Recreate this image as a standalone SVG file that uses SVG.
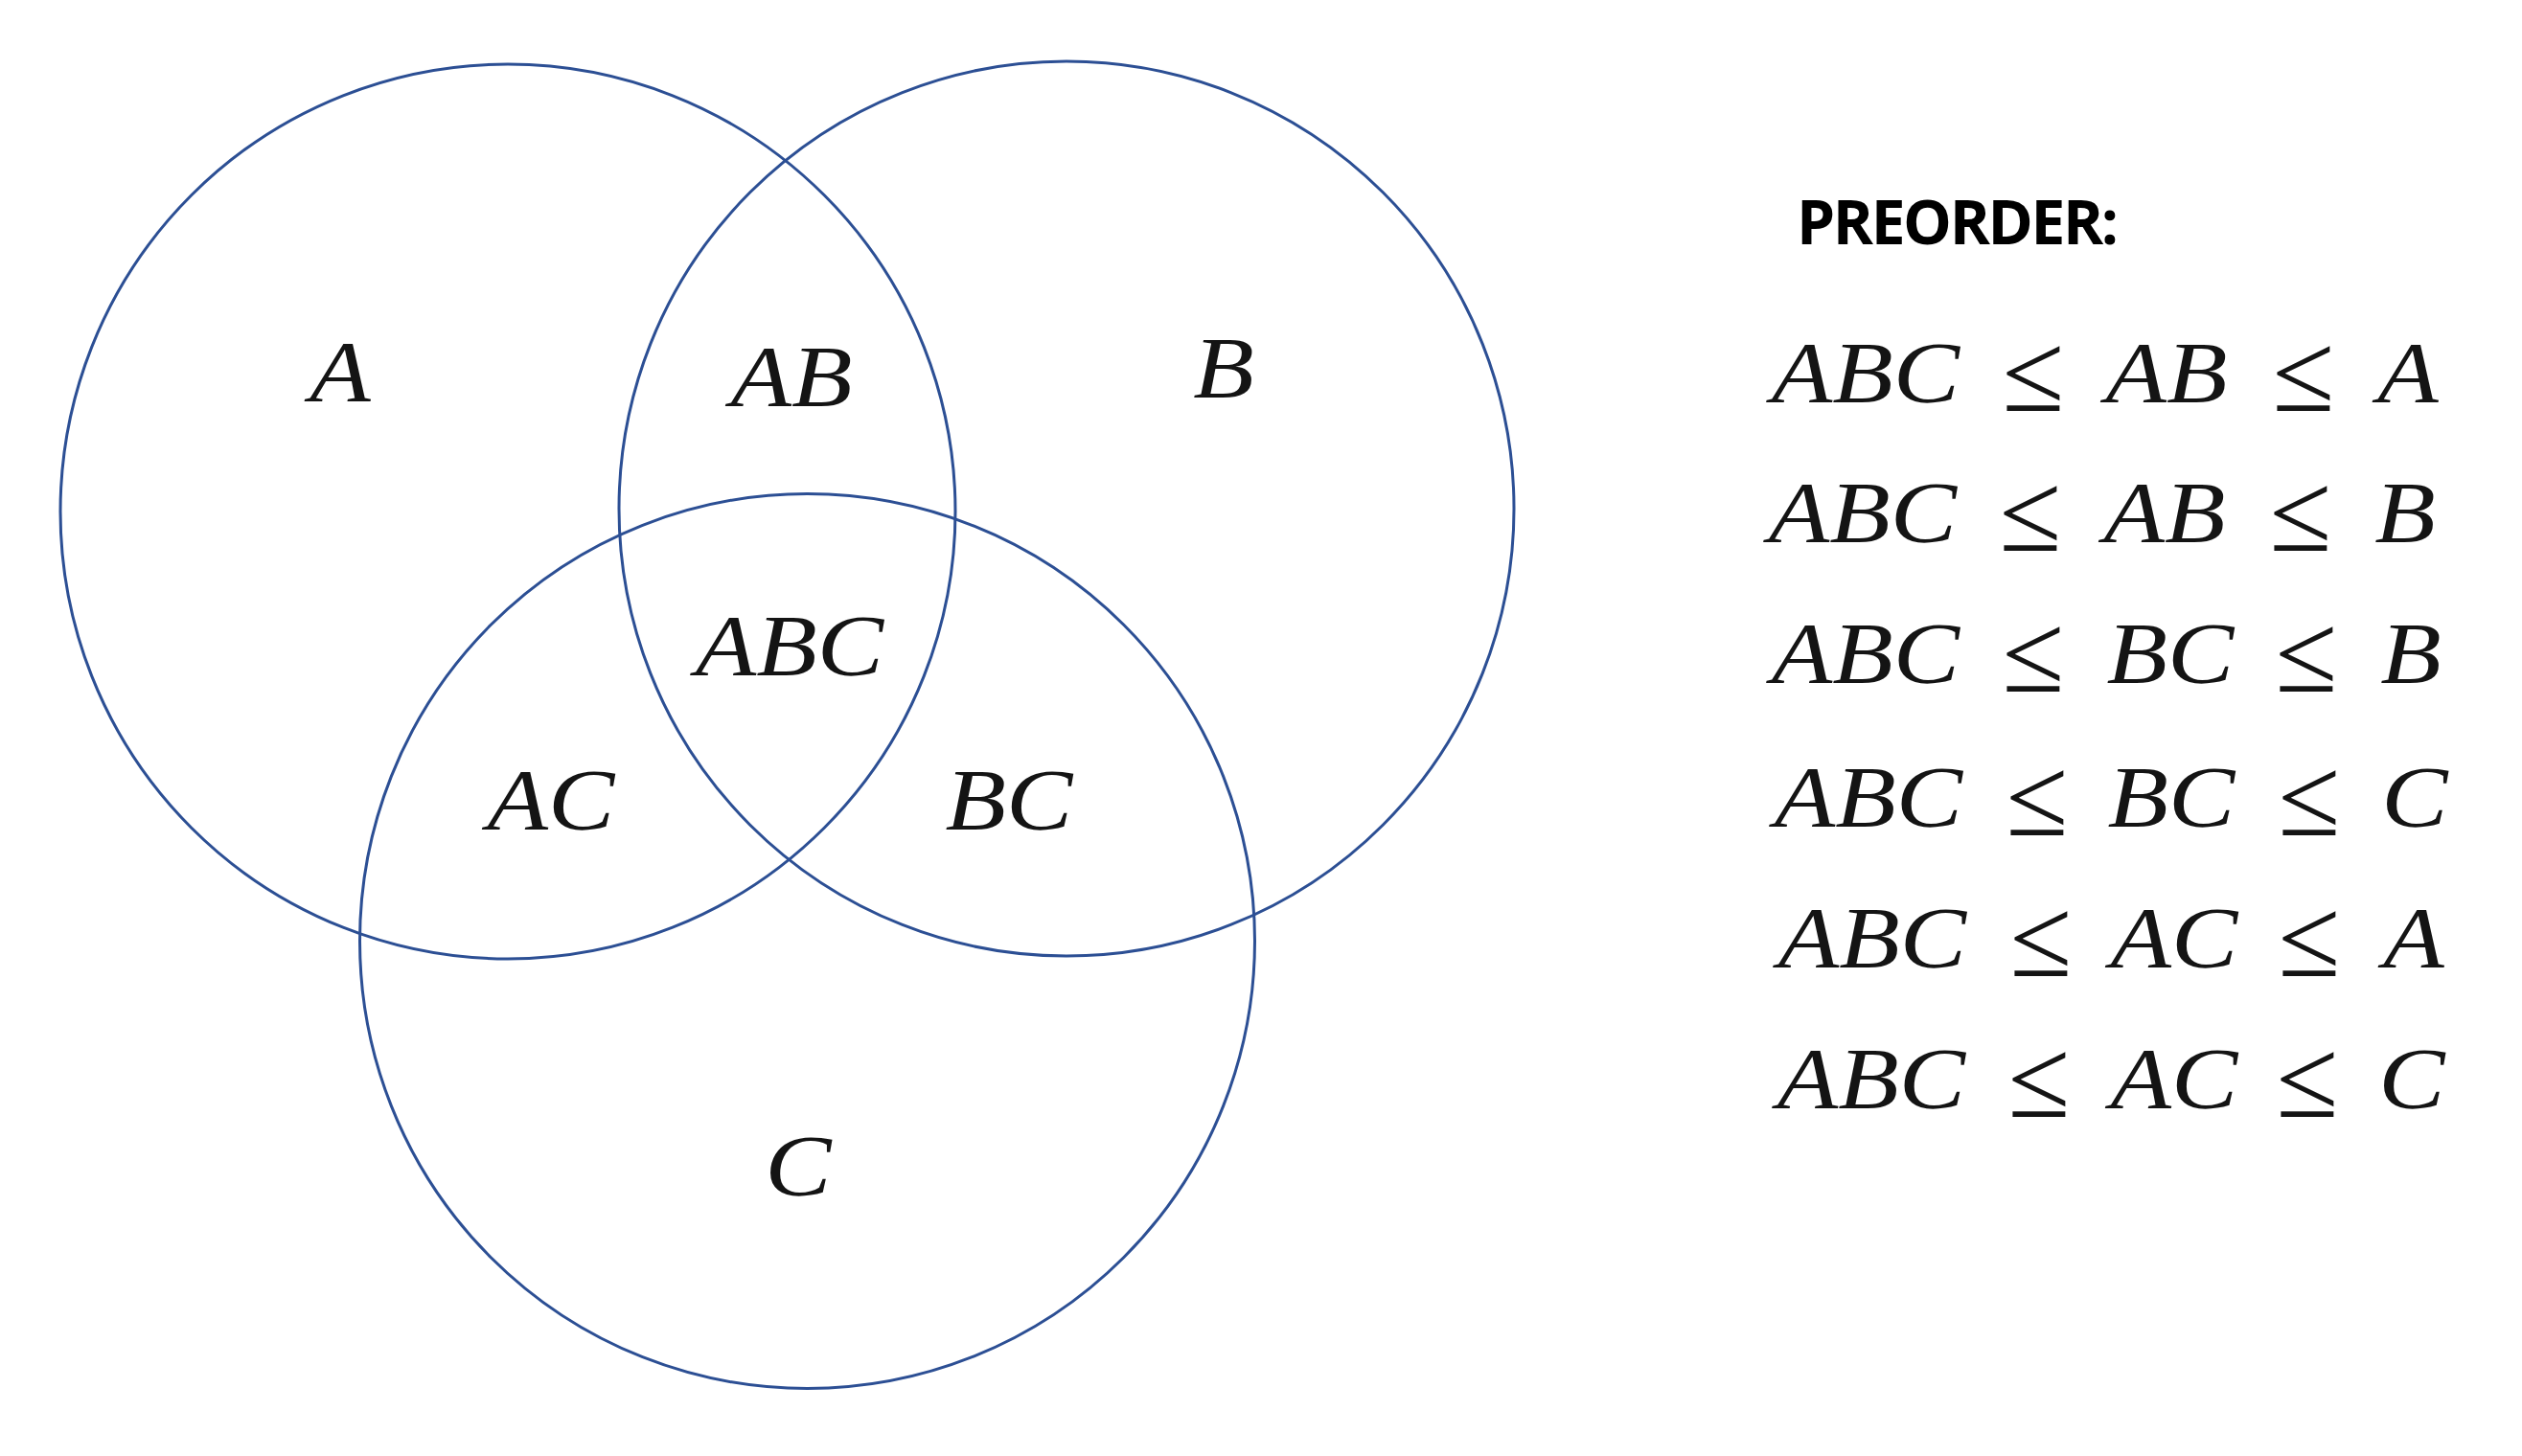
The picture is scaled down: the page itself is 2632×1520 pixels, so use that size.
<svg xmlns="http://www.w3.org/2000/svg" width="2632" height="1520" viewBox="0 0 2632 1520">
<style>
.c{fill:none;stroke:#2c4f94;stroke-width:3}
.m{font-family:"Liberation Serif","Times New Roman",serif;font-style:italic;font-size:92px;fill:#141414;text-anchor:middle}
.le{font-family:"Liberation Serif","Times New Roman",serif;font-size:118px;fill:#141414;text-anchor:middle}
.h{font-family:"Open Sans","Liberation Sans",sans-serif;font-weight:bold;font-size:64px;fill:#000}
</style>
<rect width="2632" height="1520" fill="#fff"/>
<g id="circle-A"><circle class="c" cx="530" cy="534" r="467"/></g>
<g id="circle-B"><circle class="c" cx="1113" cy="531" r="467"/></g>
<g id="circle-C"><circle class="c" cx="842.5" cy="982.5" r="467"/></g>
<g id="venn-labels">
<text class="m" transform="translate(355,419) scale(1.13,1)">A</text>
<text class="m" transform="translate(826,424) scale(1.13,1)">AB</text>
<text class="m" transform="translate(1277,415) scale(1.13,1)">B</text>
<text class="m" transform="translate(824,705) scale(1.13,1)">ABC</text>
<text class="m" transform="translate(575,866) scale(1.13,1)">AC</text>
<text class="m" transform="translate(1053,866) scale(1.13,1)">BC</text>
<text class="m" transform="translate(833,1248) scale(1.13,1)">C</text>
</g>
<g id="preorder">
<text class="h" x="1875" y="255" textLength="336">PREORDER:</text>
<g id="row1">
<text class="m" transform="translate(1947,420) scale(1.13,1)">ABC</text><text class="le" x="2122" y="429">≤</text><text class="m" transform="translate(2261,420) scale(1.13,1)">AB</text><text class="le" x="2404" y="429">≤</text><text class="m" transform="translate(2513,420) scale(1.13,1)">A</text>
</g>
<g id="row2">
<text class="m" transform="translate(1944,566) scale(1.13,1)">ABC</text><text class="le" x="2119" y="575">≤</text><text class="m" transform="translate(2259,566) scale(1.13,1)">AB</text><text class="le" x="2401" y="575">≤</text><text class="m" transform="translate(2510,566) scale(1.13,1)">B</text>
</g>
<g id="row3">
<text class="m" transform="translate(1947,713) scale(1.13,1)">ABC</text><text class="le" x="2122" y="722">≤</text><text class="m" transform="translate(2265,713) scale(1.13,1)">BC</text><text class="le" x="2407" y="722">≤</text><text class="m" transform="translate(2516,713) scale(1.13,1)">B</text>
</g>
<g id="row4">
<text class="m" transform="translate(1950,863) scale(1.13,1)">ABC</text><text class="le" x="2126" y="872">≤</text><text class="m" transform="translate(2266,863) scale(1.13,1)">BC</text><text class="le" x="2410" y="872">≤</text><text class="m" transform="translate(2520,863) scale(1.13,1)">C</text>
</g>
<g id="row5">
<text class="m" transform="translate(1954,1010) scale(1.13,1)">ABC</text><text class="le" x="2130" y="1019">≤</text><text class="m" transform="translate(2269,1010) scale(1.13,1)">AC</text><text class="le" x="2410" y="1019">≤</text><text class="m" transform="translate(2519,1010) scale(1.13,1)">A</text>
</g>
<g id="row6">
<text class="m" transform="translate(1953,1157) scale(1.13,1)">ABC</text><text class="le" x="2128" y="1166">≤</text><text class="m" transform="translate(2269,1157) scale(1.13,1)">AC</text><text class="le" x="2408" y="1166">≤</text><text class="m" transform="translate(2517,1157) scale(1.13,1)">C</text>
</g>
</g>
</svg>
